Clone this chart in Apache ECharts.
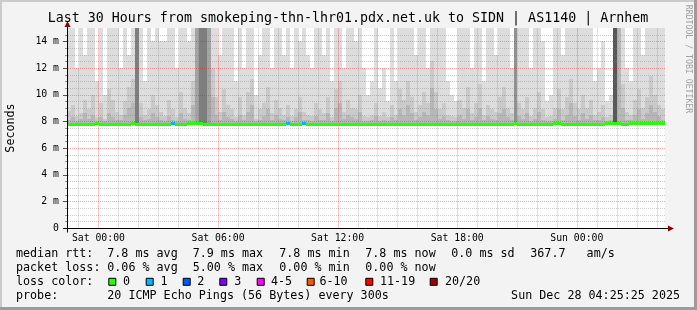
<!DOCTYPE html>
<html><head><meta charset="utf-8">
<script src="https://cdn.jsdelivr.net/npm/echarts@6/dist/echarts.min.js"></script>
<style>html,body{margin:0;padding:0;background:#f3f3f3;overflow:hidden}#c{width:697px;height:310px}</style>
</head><body><div id="c"></div>
<script>
// ---------------- data ----------------
const titleText = 'Last 30 Hours from smokeping-thn-lhr01.pdx.net.uk to SIDN | AS1140 | Arnhem';
const startHour = -1.5764;   // Fri 22:25:25, hours relative to Sat 00:00
const endHour = 28.4236;     // Sun 04:25:25
const stepHours = 0.2;       // one smoke column = 12 minutes
const xTickHours = [0, 6, 12, 18, 24];
const xTickLabels = ['Sat 00:00', 'Sat 06:00', 'Sat 12:00', 'Sat 18:00', 'Sun 00:00'];
const xMinorHours = [-1,1,2,3,4,5,7,8,9,10,11,13,14,15,16,17,19,20,21,22,23,25,26,27,28];
const yTickValues = [0, 2, 4, 6, 8, 10, 12, 14];
const yMinorValues = [0.5,1,1.5,2.5,3,3.5,4.5,5,5.5,6.5,7,7.5,8.5,9,9.5,10.5,11,11.5,12.5,13,13.5,14.5];
const yMax = 15;
const smokeFloor = 7.7;
// top of the outer (lightest) smoke band, ms (16 = beyond the chart top)
const smokeMax = [
 16,16,12,16,13,16,16,11,16,10, 16,16,16,12,16,13,16,16,16,11, 16,14,16,14,14,16,16,12,16,16,
 14,16,16,16,16,16,16,16,13,16, 16,16,11,16,12,16,16,10,13,16, 16,12,16,16,13,16,12,16,14,16,
 13,12,16,16,13,16,11,16,16,12, 16,16,14,16,12,10,11,16,10.5,12, 9.5,16,11,16,16,16,16,13,16,16,
 12,16,16,16,16,11,10,9.5,16,16, 16,12,16,16,11,16,16,13,16,16, 16,12,16,16,16,16,12,16,16,14,
 9.5,10,16,16,13,16,16,16,16,16, 16,16,11,12,14,9.5,10,16,16,16, 12,11,16,16,13,16,16,16,16,16
];
// top of the second smoke band
const smoke2 = [
 8.8,9.2,8.4,8.6,9.6,8.9,10,8.3,9.4,8.2, 10.4,9.6,8.7,8.5,9.5,10.6,11.2,16,9.4,8.5, 8.9,10,9.2,8.7,8.4,9.6,8.9,8.3,10.2,9.0,
 8.6,11,16,16,16,16,12,9.8,8.7,10.4, 9.2,8.9,8.3,9.8,8.5,10.2,11.2,8.2,8.9,9.4, 10.6,8.6,9.6,9.0,8.5,9.2,8.4,8.9,9.8,8.7,
 8.5,8.4,9.4,8.9,8.6,9.8,8.3,10.4,11.0,8.7, 9.6,9.0,8.9,10.0,8.4,8.3,8.5,9.4,8.4,8.7, 8.3,9.2,8.5,10.4,9.6,11.0,9.8,8.7,9.2,10.2,
 9.4,12.5,10.2,8.9,9.4,8.5,8.4,8.3,9.6,9.0, 10.6,8.6,9.4,10.8,8.5,9.2,8.9,8.7,9.8,10.6, 9.0,8.6,16,9.4,8.9,9.8,8.4,9.0,10.2,8.9,
 8.3,8.4,9.0,10.4,8.9,9.8,11.2,9.4,8.9,10.0, 9.0,9.6,8.5,8.7,9.2,8.3,8.5,11,16,10.8, 8.7,8.5,9.6,10.4,9.0,9.8,11.4,10.0,9.2,8.9
];
// top of the third smoke band
const smoke3 = [
 8.1,8.3,8.0,8.2,8.6,8.2,8.5,8.0,8.3,8.0, 8.6,8.3,8.1,8.1,8.5,9.0,9.4,16,8.3,8.1, 8.2,8.6,8.3,8.1,8.0,8.4,8.1,8.0,8.6,8.2,
 8.1,9.2,16,16,16,16,9.8,8.5,8.1,8.7, 8.3,8.2,8.0,8.5,8.1,8.7,9.2,8.0,8.1,8.4, 8.9,8.1,8.5,8.2,8.1,8.3,8.0,8.3,8.7,8.1,
 8.1,8.0,8.4,8.1,8.1,8.6,8.0,9.0,9.4,8.2, 8.5,8.3,8.2,8.7,8.0,8.0,8.1,8.4,8.0,8.1, 8.0,8.3,8.1,8.9,8.5,9.2,8.6,8.1,8.3,8.7,
 8.5,10.5,8.9,8.2,8.4,8.1,8.0,8.0,8.5,8.2, 8.9,8.1,8.3,9.0,8.1,8.4,8.2,8.1,8.6,8.9, 8.3,8.1,16,8.4,8.2,8.6,8.0,8.2,8.7,8.1,
 8.0,8.0,8.2,8.9,8.1,8.5,9.4,8.4,8.1,8.6, 8.2,8.5,8.1,8.1,8.3,8.0,8.1,16,16,9.0, 8.1,8.1,8.5,8.9,8.2,8.6,9.2,8.7,8.4,8.1
];
// columns where the inner pings were high too (dark smoke)
const darkCols = [17, 32, 33, 34, 35, 112, 137];
const darkTop = [16, 16, 16, 16, 16, 16, 16];
const darkLevel = [5, 3, 5, 5, 3, 4, 7];
// median rtt per column, ms
const median = [
 7.80,7.80,7.76,7.80,7.80,7.76,7.80,7.84,7.80,7.76, 7.80,7.80,7.76,7.76,7.80,7.80,7.84,7.80,7.80,7.76,
 7.80,7.76,7.80,7.80,7.76,7.80,7.82,7.80,7.76,7.80, 7.84,7.84,7.84,7.84,7.80,7.80,7.76,7.80,7.80,7.76,
 7.80,7.76,7.80,7.80,7.76,7.76,7.80,7.80,7.76,7.80, 7.80,7.76,7.80,7.80,7.76,7.82,7.80,7.76,7.80,7.82,
 7.80,7.76,7.80,7.80,7.76,7.80,7.80,7.80,7.76,7.80, 7.80,7.76,7.76,7.80,7.80,7.80,7.76,7.80,7.80,7.76,
 7.80,7.80,7.76,7.80,7.80,7.80,7.76,7.80,7.80,7.80, 7.76,7.80,7.80,7.76,7.80,7.80,7.80,7.80,7.76,7.80,
 7.80,7.80,7.76,7.80,7.80,7.80,7.76,7.80,7.80,7.80, 7.76,7.80,7.84,7.80,7.80,7.80,7.76,7.80,7.80,7.80,
 7.80,7.80,7.84,7.84,7.80,7.80,7.80,7.80,7.76,7.80, 7.80,7.80,7.76,7.80,7.80,7.84,7.84,7.84,7.84,7.80,
 7.80,7.84,7.84,7.84,7.84,7.84,7.84,7.84,7.84,7.84
];
const lossCols = [26, 55, 59];
const lossVals = [1, 1, 1];
const lossLabels = ['0', '1', '2', '3', '4-5', '6-10', '11-19', '20/20'];
const lossColors = ['#26ff00', '#00b8ff', '#0059ff', '#7e00ff', '#ff00ff', '#ff5500', '#ff0000', '#a10000'];
const rttLabel = 'median rtt:';
const rttStats = ['7.8 ms avg', '7.9 ms max', '7.8 ms min', '7.8 ms now', '0.0 ms sd', '367.7   am/s'];
const lossLabel = 'packet loss:';
const lossStats = ['0.06 % avg', '5.00 % max', '0.00 % min', '0.00 % now'];
const lossColorLabel = 'loss color:';
const probeLabel = 'probe:';
const probeText = '20 ICMP Echo Pings (56 Bytes) every 300s';
const dateText = 'Sun Dec 28 04:25:25 2025';
const yName = 'Seconds';
const creditText = 'RRDTOOL / TOBI OETIKER';

// ---------------- layout / style ----------------
const MONO = '"DejaVu Sans Mono", monospace';
const smokeShades = ['#dddddd', '#cacaca', '#b7b7b7', '#a4a4a4', '#919191', '#7e7e7e', '#6b6b6b', '#585858'];
const MAJOR = 'rgba(255,0,0,0.35)', MINOR = 'rgba(128,128,128,0.4)';
const MAJOR_V = 'rgba(255,0,0,0.22)', MINOR_V = 'rgba(128,128,128,0.22)';
const statX = [107.3, 192.7, 279.3, 365.3, 451.3, 530.3];
const boxX = [108.3, 145.7, 182.7, 219.3, 256.7, 306.7, 365.3, 429.7];
const boxLabelX = [123, 160.5, 197.3, 234.3, 271, 319.5, 380, 445];
const rowY = [254.3, 268.3, 282.3, 296.3];

function lossBucket(n) {
  if (n <= 3) return n;
  if (n <= 5) return 4;
  if (n <= 10) return 5;
  if (n <= 19) return 6;
  return 7;
}
const colLoss = smokeMax.map(() => 0);
lossCols.forEach((c, k) => { colLoss[c] = lossVals[k]; });

const colData = smokeMax.map((v, i) => [startHour + i * stepHours, i]);

const chart = echarts.init(document.getElementById('c'), null, {renderer: 'canvas'});

function band(api, t0, t1, lo, hi, fill) {
  const p0 = api.coord([t0, lo]);
  const p1 = api.coord([t1, Math.min(hi, yMax)]);
  const x0 = Math.round(p0[0]), x1 = Math.round(p1[0]);
  const y0 = Math.round(p0[1]), y1 = Math.round(p1[1]);
  return {type: 'rect', shape: {x: x0, y: y1, width: x1 - x0, height: y0 - y1}, style: {fill: fill}};
}

// all grid lines drawn by one item through the axes' own scales
function gridRender(params, api) {
  const ch = [];
  const bottom = api.coord([startHour, 0])[1], top = api.coord([startHour, yMax])[1];
  const left = api.coord([startHour, 0])[0], right = api.coord([endHour, 0])[0];
  const vLine = (h, color) => {
    const x = Math.round(api.coord([h, 0])[0]);
    ch.push({type: 'rect', shape: {x: x, y: Math.round(top), width: 1, height: Math.round(bottom - top)}, style: {fill: color}});
  };
  const hLine = (v, color, major) => {
    const y = Math.round(api.coord([startHour, v])[1]);
    if (v > 0) {
      for (let x = Math.round(left) + 1; x < right; x += 2) {
        ch.push({type: 'rect', shape: {x: x, y: y, width: 1, height: 1}, style: {fill: color}});
      }
    }
    ch.push({type: 'rect', shape: {x: Math.round(left) - (major ? 4 : 2), y: y, width: major ? 4 : 2, height: 1},
      style: {fill: major ? '#555' : '#999'}});
  };
  xMinorHours.forEach(h => vLine(h, MINOR_V));
  yMinorValues.forEach(v => hLine(v, MINOR, false));
  xTickHours.forEach(h => vLine(h, MAJOR_V));
  yTickValues.forEach(v => hLine(v, MAJOR, true));
  return {type: 'group', children: ch};
}

chart.setOption({
  animation: false,
  backgroundColor: '#f3f3f3',
  grid: {left: 67, right: 32, top: 28, bottom: 82, show: true, backgroundColor: '#ffffff', borderWidth: 0,
    containLabel: false, outerBoundsMode: 'none'},
  xAxis: {
    type: 'value', min: startHour, max: endHour,
    axisLine: {show: false}, axisTick: {show: false}, splitLine: {show: false},
    axisLabel: {
      customValues: xTickHours, margin: 5, color: '#000', fontFamily: MONO, fontSize: 9.8,
      formatter: v => { const k = xTickHours.indexOf(Math.round(v)); return k >= 0 ? xTickLabels[k] : ''; }
    }
  },
  yAxis: {
    type: 'value', min: 0, max: yMax,
    axisLine: {show: false}, splitLine: {show: false}, axisTick: {show: false},
    axisLabel: {
      customValues: yTickValues, margin: 8, color: '#000', fontFamily: MONO, fontSize: 9.8,
      formatter: v => v === 0 ? '0' : (v + ' m')
    }
  },
  series: [
    {
      type: 'custom', z: 2, silent: true, data: colData,
      encode: {x: 0, y: 1},
      renderItem: function (params, api) {
        const t0 = api.value(0), i = api.value(1), t1 = t0 + stepHours;
        const ch = [];
        ch.push(band(api, t0, t1, smokeFloor, smokeMax[i], smokeShades[0]));
        ch.push(band(api, t0, t1, smokeFloor, smoke2[i], smokeShades[1]));
        ch.push(band(api, t0, t1, smokeFloor, smoke3[i], smokeShades[2]));
        const d = darkCols.indexOf(i);
        if (d >= 0) ch.push(band(api, t0, t1, smokeFloor, darkTop[d], smokeShades[darkLevel[d]]));
        return {type: 'group', children: ch};
      }
    },
    {
      type: 'custom', z: 5, silent: true, data: [[startHour, 0]], encode: {x: 0, y: 1},
      renderItem: gridRender
    },
    {
      type: 'custom', z: 10, silent: true, data: colData,
      encode: {x: 0, y: 1},
      renderItem: function (params, api) {
        const t0 = api.value(0), i = api.value(1), t1 = t0 + stepHours;
        const a = api.coord([t0, median[i]]), b = api.coord([t1, median[i]]);
        const x0 = Math.round(a[0]), x1 = Math.round(b[0]);
        return {type: 'rect', shape: {x: x0, y: Math.round(a[1] - 1.5), width: x1 - x0, height: 3},
          style: {fill: lossColors[lossBucket(colLoss[i])]}};
      }
    }
  ]
});

// ---------------- decorations (axes arrows, title, legend) ----------------
const o = chart.convertToPixel({gridIndex: 0}, [startHour, 0]);
const tr = chart.convertToPixel({gridIndex: 0}, [endHour, yMax]);
const g = [];
function txt(x, y, s, opts) {
  return Object.assign({type: 'text', x: x, y: y, z: 60, silent: true,
    style: Object.assign({text: s, font: '11.7px ' + MONO, fill: '#000', textAlign: 'left',
      textVerticalAlign: 'middle', verticalAlign: 'middle'}, (opts && opts.style) || {})},
    (opts && opts.el) || {});
}
g.push({type: 'rect', z: 70, silent: true, shape: {x: 0, y: 0, width: 697, height: 2}, style: {fill: '#cbcbcb'}});
g.push({type: 'rect', z: 70, silent: true, shape: {x: 0, y: 0, width: 2, height: 310}, style: {fill: '#cbcbcb'}});
g.push({type: 'rect', z: 71, silent: true, shape: {x: 694, y: 0, width: 3, height: 310}, style: {fill: '#9c9c9c'}});
g.push({type: 'rect', z: 71, silent: true, shape: {x: 0, y: 307, width: 697, height: 3}, style: {fill: '#9c9c9c'}});
const ay = Math.round(o[1]) + 0.5, ax = Math.round(o[0]) + 0.5;
g.push({type: 'line', z: 55, silent: true, shape: {x1: ax - 4, y1: ay, x2: tr[0] + 3, y2: ay}, style: {stroke: '#000', lineWidth: 1}});
g.push({type: 'line', z: 55, silent: true, shape: {x1: ax, y1: ay + 4, x2: ax, y2: tr[1] - 2}, style: {stroke: '#000', lineWidth: 1}});
g.push({type: 'polygon', z: 56, silent: true, shape: {points: [[tr[0] + 3, ay - 3], [tr[0] + 9, ay], [tr[0] + 3, ay + 3]]}, style: {fill: '#8b0000'}});
g.push({type: 'polygon', z: 56, silent: true, shape: {points: [[ax - 3, tr[1] - 1], [ax, tr[1] - 7], [ax + 3, tr[1] - 1]]}, style: {fill: '#8b0000'}});
g.push(txt(348, 18.6, titleText, {style: {font: '13.3px ' + MONO, textAlign: 'center'}}));
g.push(txt(688.5, 59, creditText, {style: {font: '8.2px ' + MONO, fill: '#a0a0a0', textAlign: 'center'}, el: {rotation: -Math.PI / 2}}));
g.push(txt(10.5, (o[1] + tr[1]) / 2, yName, {style: {textAlign: 'center'}, el: {rotation: Math.PI / 2}}));
g.push(txt(16, rowY[0], rttLabel));
rttStats.forEach((s, k) => g.push(txt(statX[k], rowY[0], s)));
g.push(txt(16, rowY[1], lossLabel));
lossStats.forEach((s, k) => g.push(txt(statX[k], rowY[1], s)));
g.push(txt(16, rowY[2], lossColorLabel));
lossLabels.forEach((s, k) => {
  g.push({type: 'rect', z: 60, silent: true, shape: {x: boxX[k] + 0.5, y: rowY[2] - 4, width: 7, height: 7},
    style: {fill: lossColors[k], stroke: '#000', lineWidth: 1}});
  g.push(txt(boxLabelX[k], rowY[2], s));
});
g.push(txt(16, rowY[3], probeLabel));
g.push(txt(statX[0], rowY[3], probeText));
g.push(txt(680, rowY[3], dateText, {style: {textAlign: 'right'}}));

chart.setOption({graphic: g});
</script>
</body></html>
